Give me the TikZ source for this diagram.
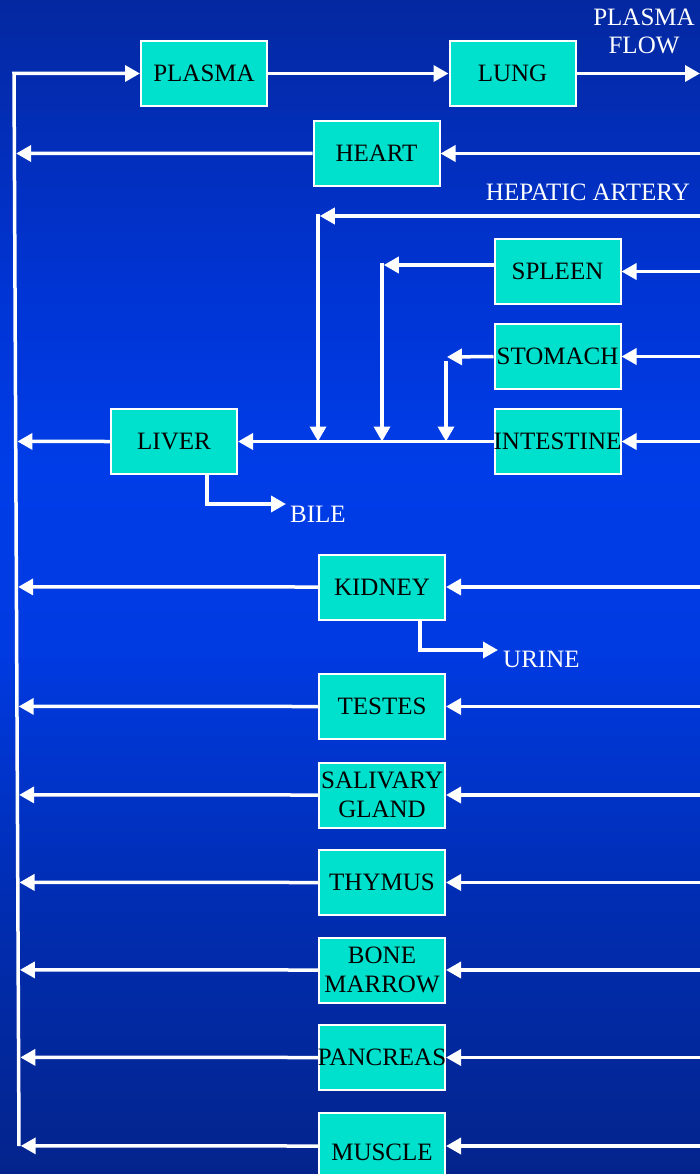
\documentclass[tikz,border=0pt]{standalone}
\usepackage{fontspec}
\setmainfont{Liberation Serif}
\usetikzlibrary{arrows.meta,calc}
\definecolor{turq}{RGB}{0,225,205}
\definecolor{bgA}{RGB}{4,40,160}
\definecolor{bgB}{RGB}{0,52,212}
\definecolor{bgC}{RGB}{0,61,232}
\definecolor{bgD}{RGB}{0,58,225}
\definecolor{bgE}{RGB}{0,45,178}
\definecolor{bgF}{RGB}{4,36,140}
\pgfdeclareverticalshading{slidebg}{100bp}{color(0bp)=(bgF); color(25bp)=(bgF); color(36.7bp)=(bgE); color(47.3bp)=(bgD); color(55bp)=(bgC); color(62.6bp)=(bgB); color(75bp)=(bgA); color(100bp)=(bgA)}
\begin{document}
\begin{tikzpicture}[x=1pt,y=-1pt,
  organ/.style={draw=white, line width=2pt, fill=turq, minimum width=126pt, minimum height=65pt,
    inner sep=0pt, align=center, font=\fontsize{25}{29}\selectfont, text=black},
  arrowline/.style={draw=white, line width=3.5pt, -{Triangle[length=15pt,width=16pt]}},
  lbl/.style={text=white, font=\fontsize{25}{28}\selectfont, inner sep=0pt, align=center}]
\useasboundingbox (0,0) rectangle (700,1174);
\shade[shading=slidebg] (0,0) rectangle (700,1174);

% nodes
\node[organ] (plasma) at (204,73.5) {PLASMA};
\node[organ] (lung) at (512.5,73.5) {LUNG};
\node[organ] (heart) at (376.5,153.5) {HEART};
\node[organ] (liver) at (174,441.5) {LIVER};
\node[organ] (spleen) at (557.5,271.5) {SPLEEN};
\node[organ] (stomach) at (557.5,356.5) {\makebox[0pt]{STOMACH}};
\node[organ] (intestine) at (557.5,441.5) {\makebox[0pt]{INTESTINE}};
\node[organ] (kidney) at (382,587) {KIDNEY};
\node[organ] (testes) at (382,706.5) {TESTES};
\node[organ] (salivary) at (382,795) {SALIVARY\\GLAND};
\node[organ] (thymus) at (382,882.5) {THYMUS};
\node[organ] (marrow) at (382,970) {BONE\\MARROW};
\node[organ] (pancreas) at (382,1057.5) {\makebox[0pt]{PANCREAS}};
\node[organ, minimum height=66pt, text height=28pt, text depth=0pt] (muscle) at (382,1146) {MUSCLE};

% labels
\node[lbl] (pflow) at (644,31) {PLASMA\\FLOW};
\node[lbl, anchor=base east] (hep) at (690,201) {HEPATIC ARTERY};
\node[lbl, anchor=base west] (bile) at (290,522) {BILE};
\node[lbl, anchor=base west] (urine) at (503,667) {URINE};

% coordinates
\coordinate (R) at (700,0);
\coordinate (vtop) at (14,73.5);
\coordinate (vbot) at (19,1146);
\coordinate (ha) at (318,216);
\coordinate (sp) at (382,265);
\coordinate (st) at (446,357);
\coordinate (bileTip) at (286,504);
\coordinate (urineTip) at (498,650);

% top loop
\draw[arrowline] (vbot) -- (vtop) -- (plasma.west);
\draw[arrowline] (plasma.east) -- (lung.west);
\draw[arrowline] (lung.east) -- (lung.east -| R);

% right inputs
\foreach \n in {heart,spleen,stomach,intestine,kidney,testes,salivary,thymus,marrow,pancreas,muscle}
  \draw[arrowline] (\n.east -| R) -- (\n.east);

% left outputs
\foreach \n in {heart,liver,kidney,testes,salivary,thymus,marrow,pancreas,muscle}
  \draw[arrowline, shorten >=1.75pt] (\n.west) --
    (intersection cs: first line={(vtop)--(vbot)}, second line={(\n.west)--(\n.west -| R)});

% hepatic artery
\draw[arrowline] (ha -| R) -- ([xshift=1.75pt]ha);
\draw[arrowline] ([yshift=1.75pt]ha) -- (ha |- liver.east);

% spleen
\draw[arrowline] (spleen.west |- sp) -- ([xshift=1.75pt]sp);
\draw[arrowline] ([yshift=1.75pt]sp) -- (sp |- liver.east);

% stomach
\draw[arrowline] (stomach.west) -- ([xshift=1pt]st);
\draw[arrowline] ([yshift=-4pt]st) -- (st |- liver.east);

% intestine to liver
\draw[arrowline] (intestine.west) -- (liver.east);

% bile and urine
\draw[arrowline] ([xshift=33pt]liver.south) |- (bileTip);
\draw[arrowline] ([xshift=38pt]kidney.south) |- (urineTip);
\end{tikzpicture}
\end{document}
